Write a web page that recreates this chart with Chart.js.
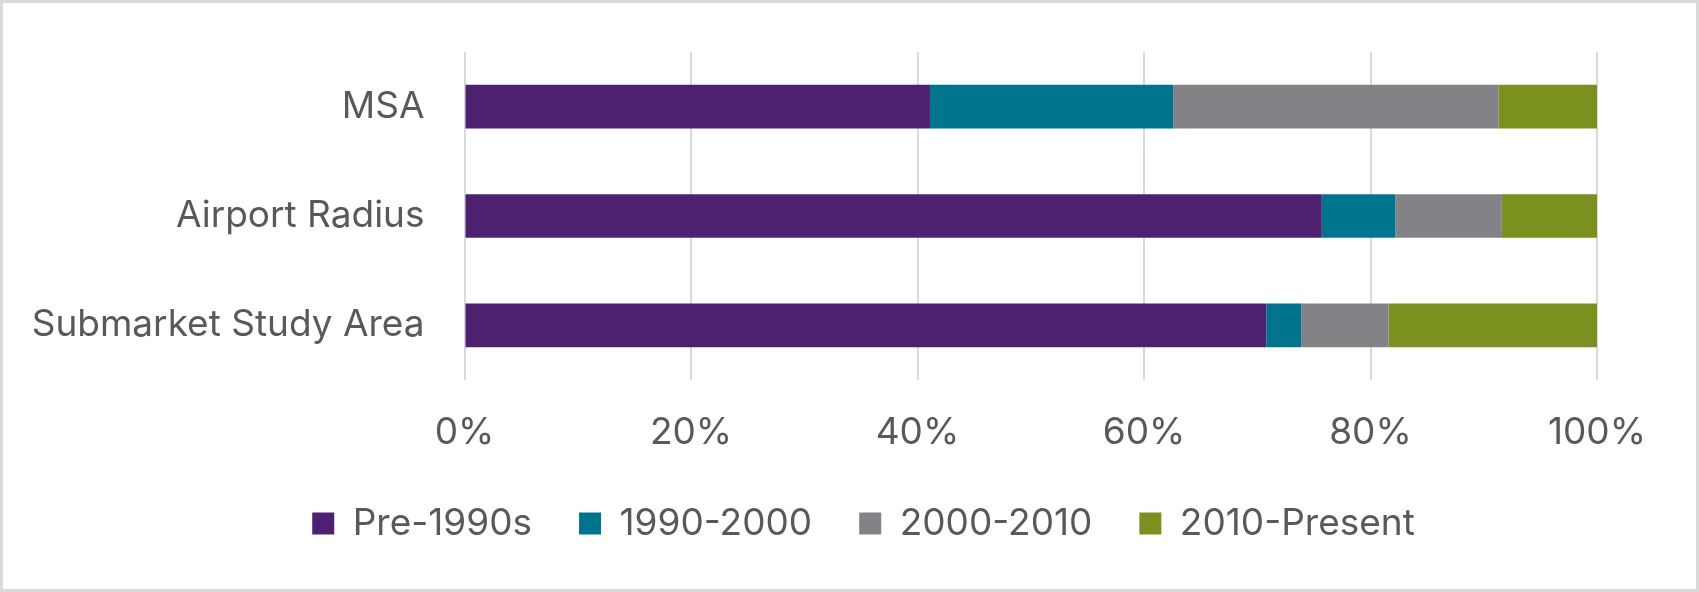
<!DOCTYPE html>
<html><head><meta charset="utf-8">
<script src="https://cdn.jsdelivr.net/npm/chart.js@4"></script>
<style>
html,body{margin:0;padding:0;background:#fff;}
#wrap{position:relative;width:1699px;height:592px;}
#frame{position:absolute;left:0;top:0;width:1699px;height:592px;box-sizing:border-box;border:3px solid #d9d9d9;pointer-events:none;}
canvas{position:absolute;left:0;top:0;}
</style></head><body>
<div id="wrap"><canvas id="c" width="1699" height="592"></canvas><div id="frame"></div></div>
<script>
const categories = ['MSA', 'Airport Radius', 'Submarket Study Area'];
const seriesNames = ['Pre-1990s', '1990-2000', '2000-2010', '2010-Present'];
const pre1990s = [41.1, 75.7, 70.8];
const from1990to2000 = [21.5, 6.5, 3.1];
const from2000to2010 = [28.7, 9.4, 7.7];
const from2010toPresent = [8.7, 8.4, 18.4];
const tickStep = 20;
const tickMax = 100;
const seriesColors = ['#4e2170', '#00748c', '#838387', '#7a9120'];

const seriesValues = [pre1990s, from1990to2000, from2000to2010, from2010toPresent];
const FONT = 'Inter';
const TEXT = '#595959';
const FS = 37;

const legendShift = {
  id: 'legendShift',
  afterLayout(chart) {
    const lg = chart.legend;
    if (!lg) return;
    lg.left = 130;
    lg.width = lg.right - lg.left;
  }
};

new Chart(document.getElementById('c'), {
  type: 'bar',
  data: {
    labels: categories,
    datasets: seriesNames.map((name, i) => ({
      label: name,
      data: seriesValues[i],
      backgroundColor: seriesColors[i],
      borderWidth: 0,
      categoryPercentage: 1.0,
      barPercentage: 0.4
    }))
  },
  plugins: [legendShift],
  options: {
    indexAxis: 'y',
    responsive: false,
    animation: false,
    devicePixelRatio: 1,
    layout: { padding: { left: 10, right: 102, top: 52, bottom: 40 } },
    plugins: {
      tooltip: { enabled: false },
      legend: {
        position: 'bottom',
        labels: {
          boxWidth: 22, boxHeight: 22, padding: 47,
          color: TEXT,
          font: { family: FONT, size: FS }
        }
      }
    },
    scales: {
      x: {
        stacked: true, min: 0, max: tickMax,
        border: { display: false },
        grid: { color: '#d9d9d9', lineWidth: 2, drawTicks: false },
        ticks: {
          stepSize: tickStep, padding: 31, color: TEXT,
          font: { family: FONT, size: FS },
          callback: v => v + '%'
        },
        afterFit: s => { s.height = 78; }
      },
      y: {
        stacked: true,
        border: { display: false },
        grid: { display: false, drawTicks: false },
        ticks: { padding: 40, color: TEXT, font: { family: FONT, size: FS } },
        afterFit: s => { s.width = 454.5; s.paddingTop = 0; s.paddingBottom = 0; }
      }
    }
  }
});
</script>
</body></html>
